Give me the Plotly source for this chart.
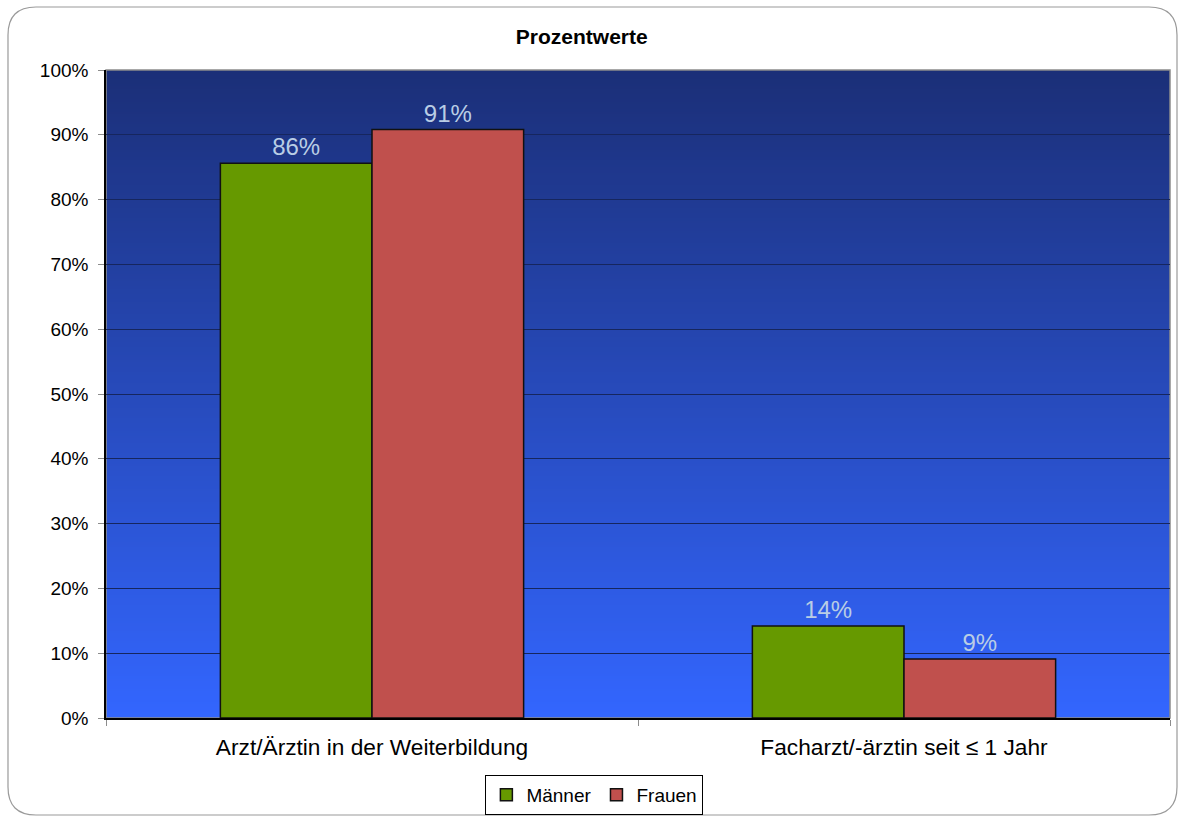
import base64
import struct
import zlib
import plotly.graph_objects as go

categories = ["Arzt/Ärztin in der Weiterbildung", "Facharzt/-ärztin seit ≤ 1 Jahr"]
maenner = [85.6, 14.2]
frauen = [90.8, 9.1]
series_names = ["Männer", "Frauen"]

W, H = 1180, 817
ML, MR, MT, MB = 106, 10, 70, 99
PW, PH = W - ML - MR, H - MT - MB


def px2paper(x, y):
    return (x - ML) / PW, 1 - (y - MT) / PH


def gradient_png(top, bot, n=256):
    raw = b""
    for i in range(n):
        t = i / (n - 1)
        c = bytes(round(top[k] + (bot[k] - top[k]) * t) for k in range(3))
        raw += b"\x00" + c
    def chunk(tag, data):
        return struct.pack(">I", len(data)) + tag + data + struct.pack(">I", zlib.crc32(tag + data) & 0xffffffff)
    png = b"\x89PNG\r\n\x1a\n" + chunk(b"IHDR", struct.pack(">IIBBBBB", 1, n, 8, 2, 0, 0, 0)) \
        + chunk(b"IDAT", zlib.compress(raw)) + chunk(b"IEND", b"")
    return "data:image/png;base64," + base64.b64encode(png).decode()


fig = go.Figure()
fig.add_trace(go.Bar(x=categories, y=maenner, name=series_names[0],
                     marker=dict(color="#669900", line=dict(color="#111111", width=1.5)),
                     texttemplate="%{y:.0f}%", textposition="outside",
                     textfont=dict(color="#B9CDE5", size=24, family="Arial")))
fig.add_trace(go.Bar(x=categories, y=frauen, name=series_names[1],
                     marker=dict(color="#C0504D", line=dict(color="#111111", width=1.5)),
                     texttemplate="%{y:.0f}%", textposition="outside",
                     textfont=dict(color="#B9CDE5", size=24, family="Arial")))

shapes = []
# plot area frame (gray top/right)
shapes.append(dict(type="rect", xref="paper", yref="paper", x0=0, x1=1, y0=0, y1=1,
                   line=dict(color="#8C8C8C", width=1.5), fillcolor="rgba(0,0,0,0)", layer="below"))

# rounded outer border
x0p, y0p, x1p, y1p, r = 8, 7, 1177, 815, 28


def P(x, y):
    a, b = px2paper(x, y)
    return "%.5f,%.5f" % (a, b)


path = ("M " + P(x0p + r, y0p) + " L " + P(x1p - r, y0p) + " Q " + P(x1p, y0p) + " " + P(x1p, y0p + r) +
        " L " + P(x1p, y1p - r) + " Q " + P(x1p, y1p) + " " + P(x1p - r, y1p) +
        " L " + P(x0p + r, y1p) + " Q " + P(x0p, y1p) + " " + P(x0p, y1p - r) +
        " L " + P(x0p, y0p + r) + " Q " + P(x0p, y0p) + " " + P(x0p + r, y0p) + " Z")
shapes.append(dict(type="path", xref="paper", yref="paper", path=path,
                   line=dict(color="#9A9A9A", width=1.2), layer="below"))

fig.update_layout(
    width=W, height=H,
    margin=dict(l=ML, r=MR, t=MT, b=MB, autoexpand=False),
    paper_bgcolor="white", plot_bgcolor="rgba(0,0,0,0)",
    barmode="group", bargap=0.43, bargroupgap=0,
    font=dict(family="Arial", color="black"),
    title=dict(text="<b>Prozentwerte</b>", x=0.493, xanchor="center", y=0.955, yanchor="middle",
               font=dict(size=21, color="black", family="Arial")),
    shapes=shapes,
    images=[dict(source=gradient_png((27, 47, 120), (51, 102, 255)), xref="paper", yref="paper",
                 x=0, y=1, sizex=1, sizey=1, xanchor="left", yanchor="top", sizing="stretch",
                 layer="below")],
    showlegend=True,
    legend=dict(orientation="h", x=0.459, xanchor="center", y=-0.088, yanchor="top",
                bordercolor="black", borderwidth=1, font=dict(size=19, family="Arial"),
                itemwidth=30, traceorder="normal", bgcolor="white"),
)
fig.update_yaxes(range=[0, 100], dtick=10, ticksuffix="%", showgrid=True, gridcolor="#16265E",
                 gridwidth=1, ticks="outside", ticklen=6, tickcolor="#8C8C8C",
                 showline=True, linecolor="black", linewidth=1.5, zeroline=False,
                 ticklabelstandoff=6,
                 tickfont=dict(size=19, family="Arial", color="black"))
fig.update_xaxes(showline=True, linecolor="black", linewidth=1.5, ticks="outside", tickson="boundaries",
                 ticklen=6, tickcolor="#8C8C8C", ticklabelstandoff=8,
                 tickfont=dict(size=22.7, family="Arial", color="black"))

fig.write_html("out.html", config={"displayModeBar": False},
               post_script="document.body.style.margin='0';document.body.style.overflow='hidden';")
